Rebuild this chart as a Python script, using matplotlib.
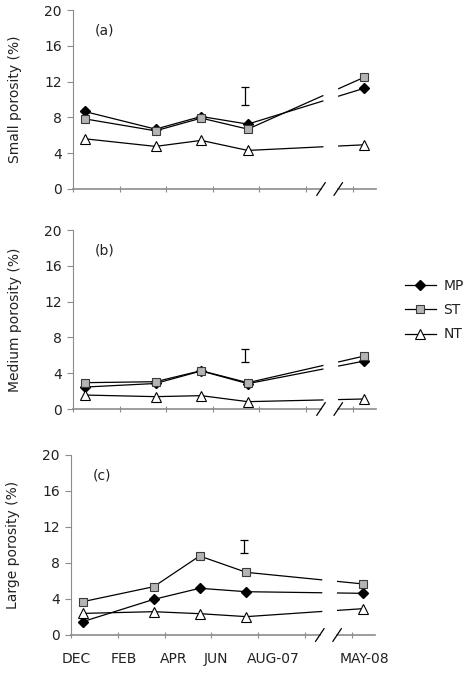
import numpy as np
import matplotlib
matplotlib.use('Agg')
import matplotlib.pyplot as plt
import matplotlib.transforms as mtransforms
from matplotlib.lines import Line2D

# sampling positions along the (broken) time axis, in axis units
x_samp = [0.25, 1.77, 2.75, 3.75, 6.25]
month_labels = ['DEC', 'FEB', 'APR', 'JUN', 'AUG-07', 'MAY-08']
month_pos = [0.11, 1.13, 2.2, 3.09, 4.32, 6.28]

series = ['MP', 'ST', 'NT']

# (a) small porosity
small_mp = [8.66, 6.69, 8.10, 7.25, 11.26]
small_st = [7.84, 6.50, 7.92, 6.69, 12.49]
small_nt = [5.61, 4.76, 5.43, 4.31, 4.94]
small_err = (10.4, 0.97)

# (b) medium porosity
med_mp = [2.45, 2.85, 4.25, 2.83, 5.36]
med_st = [2.94, 3.05, 4.28, 2.94, 5.92]
med_nt = [1.56, 1.38, 1.49, 0.82, 1.12]
med_err = (5.97, 0.73)

# (c) large porosity
large_mp = [1.48, 3.96, 5.19, 4.81, 4.63]
large_st = [3.70, 5.37, 8.78, 6.96, 5.67]
large_nt = [2.40, 2.59, 2.37, 2.04, 2.93]
large_err = (9.85, 0.70)

ylabels = ['Small porosity (%)', 'Medium porosity (%)', 'Large porosity (%)']
tags = ['(a)', '(b)', '(c)']

styles = {
    'MP': dict(marker='D', markersize=5, markerfacecolor='black', markeredgecolor='black'),
    'ST': dict(marker='s', markersize=5.5, markerfacecolor='#b4b4b4', markeredgecolor='#3a3a3a', markeredgewidth=0.8),
    'NT': dict(marker='^', markersize=6.5, markerfacecolor='white', markeredgecolor='black', markeredgewidth=0.8),
}

gray = '#8c8c8c'
txt = '#222222'
line_gap = (5.36, 5.70)
axis_gap = (5.33, 5.68)

fig = plt.figure(figsize=(4.73, 6.75), dpi=100)
W, H = 473.0, 675.0
# axes boxes in pixels: left, top(y=20), bottom(y=0), right
boxes = [(73, 10, 189, 376), (73, 230, 409, 376), (71, 455, 635, 375)]

panels = [
    (small_mp, small_st, small_nt, small_err),
    (med_mp, med_st, med_nt, med_err),
    (large_mp, large_st, large_nt, large_err),
]

xs = np.array(x_samp)
for i, (vals_mp, vals_st, vals_nt, err) in enumerate(panels):
    l, t, b, r = boxes[i]
    ax = fig.add_axes([l / W, 1 - b / H, (r - l) / W, (b - t) / H])
    for name, vals in zip(series, [vals_mp, vals_st, vals_nt]):
        v = np.array(vals)
        ya = np.interp(line_gap[0], xs[3:], v[3:])
        yb = np.interp(line_gap[1], xs[3:], v[3:])
        ax.plot(list(xs[:4]) + [line_gap[0]], list(v[:4]) + [ya], color='black', lw=0.9)
        ax.plot([line_gap[1], xs[4]], [yb, v[4]], color='black', lw=0.9)
        ax.plot(xs, v, linestyle='none', **styles[name])
    ax.errorbar([3.7], [err[0]], yerr=[err[1]], color='black', lw=0.9, capsize=3.2, capthick=0.9)

    ax.set_xlim(0, 6.5)
    ax.set_ylim(0, 20)
    ax.set_yticks(range(0, 21, 4))
    ax.spines['top'].set_visible(False)
    ax.spines['right'].set_visible(False)
    ax.spines['bottom'].set_visible(False)
    ax.spines['left'].set_color(gray)
    ax.tick_params(axis='y', colors=gray, labelcolor=txt, labelsize=10, length=4, pad=4)
    ax.set_xticks(range(7))
    ax.set_xticklabels([])
    ax.tick_params(axis='x', which='major', colors=gray, direction='inout', length=4)

    # broken bottom axis
    trans = mtransforms.blended_transform_factory(ax.transData, ax.transAxes)
    ax.plot([0, axis_gap[0]], [0, 0], color=gray, lw=1.2, transform=trans, clip_on=False)
    ax.plot([axis_gap[1], 6.5], [0, 0], color=gray, lw=1.2, transform=trans, clip_on=False)
    for x0 in (5.23, 5.60):
        ax.plot([x0, x0 + 0.18], [-0.035, 0.035], color='black', lw=0.9, transform=trans, clip_on=False)

    ax.text(0.072, 0.885, tags[i], transform=ax.transAxes, fontsize=10, color=txt, va='center')
    ax.set_ylabel(ylabels[i], fontsize=10, color=txt, labelpad=16)

    if i == 2:
        ax.set_xticks(month_pos, labels=month_labels, minor=True)
        ax.tick_params(axis='x', which='minor', length=0, pad=12, labelsize=10, labelcolor=txt)

leg_handles = [Line2D([], [], color='black', lw=0.9, **styles[n]) for n in series]
fig.legend(leg_handles, series, loc='center left', bbox_to_anchor=(392 / W, 1 - 310 / H),
           frameon=False, fontsize=10, handlelength=2.3, handletextpad=0.5, labelspacing=0.75,
           labelcolor=txt)

fig.savefig('out.png', dpi=100)
